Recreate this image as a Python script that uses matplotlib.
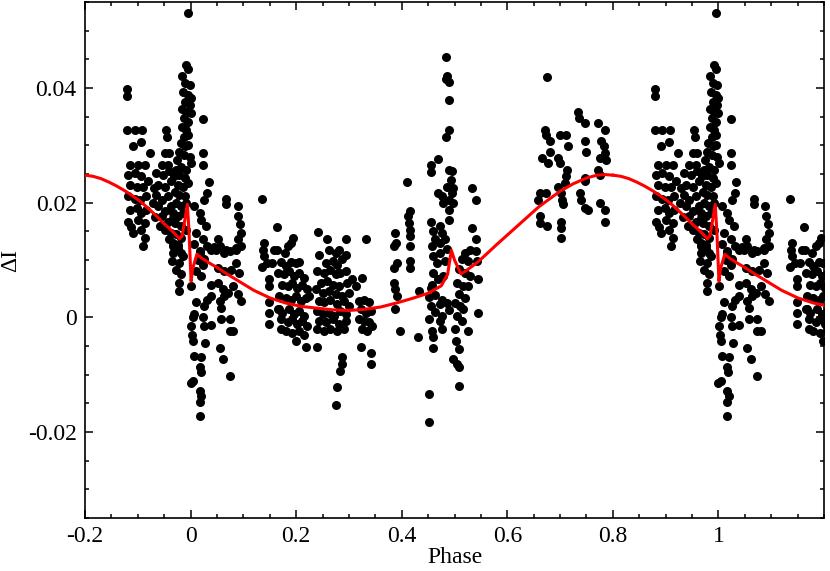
import matplotlib
matplotlib.use("Agg")
import matplotlib.pyplot as plt
import numpy as np
from matplotlib.ticker import MultipleLocator, FixedLocator, FuncFormatter

# Points with phase < 0.8 are repeated at phase + 1 on the plot.
night_a = [
    (-0.121, 0.0398), (-0.121, 0.0386), (-0.121, 0.0327), (-0.106, 0.0327),
    (-0.092, 0.0327), (-0.109, 0.0298), (-0.093, 0.0305), (-0.076, 0.0286),
    (-0.115, 0.0266), (-0.099, 0.0266), (-0.087, 0.0266), (-0.118, 0.0249),
    (-0.106, 0.0252), (-0.093, 0.0246), (-0.115, 0.0231), (-0.102, 0.0228),
    (-0.090, 0.0228), (-0.081, 0.0237), (-0.118, 0.0211), (-0.106, 0.0207),
    (-0.096, 0.0205), (-0.084, 0.0211), (-0.115, 0.0188), (-0.102, 0.0191),
    (-0.093, 0.0182), (-0.084, 0.0188), (-0.118, 0.0167), (-0.099, 0.0170),
    (-0.087, 0.0164), (-0.109, 0.0147), (-0.093, 0.0153), (-0.087, 0.0138),
    (-0.090, 0.0124), (-0.112, 0.0158), (-0.070, 0.0225), (-0.072, 0.0200),
]
night_b = [
    (-0.046, 0.0327), (-0.044, 0.0315), (-0.049, 0.0286), (-0.040, 0.0286),
    (-0.055, 0.0266), (-0.043, 0.0266), (-0.065, 0.0252), (-0.052, 0.0249),
    (-0.040, 0.0255), (-0.062, 0.0231), (-0.049, 0.0228), (-0.037, 0.0237),
    (-0.065, 0.0213), (-0.055, 0.0205), (-0.043, 0.0211), (-0.062, 0.0194),
    (-0.049, 0.0185), (-0.037, 0.0194), (-0.055, 0.0176), (-0.043, 0.0167),
    (-0.033, 0.0173), (-0.049, 0.0153), (-0.037, 0.0147), (-0.040, 0.0136),
    (-0.033, 0.0124), (-0.058, 0.0160), (-0.068, 0.0175),
]
eclipse_spike = [
    (-0.005, 0.0531), (-0.008, 0.0440), (-0.004, 0.0434), (-0.016, 0.0421),
    (-0.011, 0.0408), (-0.002, 0.0405), (-0.015, 0.0393), (-0.005, 0.0387),
    (0.000, 0.0383), (-0.011, 0.0376), (-0.002, 0.0370), (-0.016, 0.0364),
    (-0.008, 0.0359), (0.000, 0.0356), (-0.012, 0.0347), (-0.004, 0.0341),
    (-0.016, 0.0332), (-0.008, 0.0327), (-0.012, 0.0315), (-0.004, 0.0318),
    (-0.019, 0.0304), (-0.011, 0.0298), (-0.004, 0.0301), (-0.022, 0.0289),
    (-0.012, 0.0283), (-0.002, 0.0280), (-0.025, 0.0275), (0.001, 0.0269),
    (-0.018, 0.0263), (-0.008, 0.0257), (-0.027, 0.0257), (-0.021, 0.0249),
    (-0.011, 0.0243), (-0.031, 0.0246), (-0.024, 0.0231), (-0.015, 0.0228),
    (-0.005, 0.0234), (-0.030, 0.0219), (-0.021, 0.0214), (-0.011, 0.0211),
    (-0.027, 0.0199), (-0.018, 0.0194), (-0.008, 0.0199), (-0.033, 0.0182),
    (-0.024, 0.0176), (-0.015, 0.0182), (-0.030, 0.0165), (-0.018, 0.0159),
    (-0.008, 0.0153), (-0.027, 0.0145), (-0.018, 0.0139), (-0.024, 0.0127),
    (-0.033, 0.0113), (-0.015, 0.0107), (-0.033, 0.0130), (-0.024, 0.0121),
    (-0.018, 0.0112), (-0.035, 0.0098), (-0.021, 0.0095), (-0.027, 0.0083),
    (-0.018, 0.0075), (-0.022, 0.0060), (-0.021, 0.0046),
]
post_eclipse = [
    (0.001, 0.0054), (0.011, 0.0026), (0.004, 0.0000), (0.007, 0.0005),
    (0.001, -0.0015), (0.003, -0.0030), (0.004, -0.0041), (0.007, -0.0067),
    (0.000, -0.0114), (0.004, -0.0111), (0.017, -0.0087), (0.019, -0.0096),
    (0.017, -0.0128), (0.020, -0.0137), (0.017, -0.0148), (0.017, -0.0172),
    (0.020, -0.0070), (0.027, -0.0044), (0.023, 0.0000), (0.026, -0.0015),
    (0.026, 0.0020), (0.032, 0.0031), (0.039, 0.0037), (0.039, -0.0014),
    (0.007, 0.0128), (0.017, 0.0115), (0.014, 0.0100), (0.023, 0.0092),
    (0.010, 0.0081), (0.020, 0.0072), (0.007, 0.0194), (0.017, 0.0182),
    (0.026, 0.0205), (0.020, 0.0170), (0.029, 0.0159), (0.010, 0.0147),
    (0.023, 0.0136), (0.032, 0.0124), (0.017, 0.0113), (0.026, 0.0101),
    (0.023, 0.0346), (0.023, 0.0286), (0.023, 0.0266), (0.034, 0.0236),
    (0.031, 0.0217),
]
night_c = [
    (0.039, 0.0118), (0.048, 0.0118), (0.055, 0.0124), (0.064, 0.0112),
    (0.074, 0.0115), (0.086, 0.0121), (0.096, 0.0124), (0.052, 0.0086),
    (0.064, 0.0080), (0.077, 0.0083), (0.086, 0.0095), (0.092, 0.0078),
    (0.039, 0.0057), (0.052, 0.0060), (0.061, 0.0049), (0.071, 0.0043),
    (0.080, 0.0054), (0.089, 0.0040), (0.096, 0.0028), (0.055, 0.0028),
    (0.058, 0.0017), (0.064, 0.0037), (0.058, -0.0003), (0.074, -0.0003),
    (0.074, -0.0023), (0.080, -0.0023), (0.055, -0.0053), (0.061, -0.0073),
    (0.074, -0.0103), (0.052, 0.0136), (0.045, 0.0122), (0.067, 0.0117),
    (0.086, 0.0118), (0.090, 0.0136), (0.096, 0.0147), (0.089, 0.0195),
    (0.090, 0.0176), (0.094, 0.0163), (0.067, 0.0206), (0.067, 0.0197),
]
night_d = [
    (0.136, 0.0206), (0.163, 0.0158), (0.140, 0.0130), (0.137, 0.0118),
    (0.140, 0.0107), (0.136, 0.0088), (0.158, 0.0118), (0.164, 0.0118),
    (0.145, 0.0095), (0.155, 0.0095), (0.149, 0.0066), (0.149, 0.0054),
    (0.149, 0.0026), (0.149, 0.0008), (0.149, -0.0012), (0.171, -0.0021),
    (0.168, 0.0014), (0.178, 0.0112), (0.185, 0.0124), (0.194, 0.0139),
    (0.190, 0.0130), (0.171, 0.0097), (0.180, 0.0089), (0.190, 0.0097),
    (0.199, 0.0095), (0.206, 0.0097), (0.165, 0.0078), (0.177, 0.0075),
    (0.187, 0.0080), (0.196, 0.0072), (0.206, 0.0078), (0.215, 0.0069),
    (0.174, 0.0057), (0.184, 0.0054), (0.193, 0.0060), (0.202, 0.0052),
    (0.212, 0.0057), (0.221, 0.0049), (0.224, 0.0037), (0.168, 0.0037),
    (0.180, 0.0034), (0.190, 0.0031), (0.199, 0.0037), (0.209, 0.0028),
    (0.218, 0.0034), (0.165, 0.0014), (0.174, 0.0008), (0.187, 0.0014),
    (0.196, 0.0005), (0.206, 0.0011), (0.215, 0.0003), (0.171, -0.0003),
    (0.184, -0.0009), (0.193, -0.0003), (0.202, -0.0012), (0.212, -0.0006),
    (0.221, -0.0015), (0.180, -0.0024), (0.193, -0.0027), (0.206, -0.0024),
    (0.215, -0.0030), (0.199, -0.0041), (0.218, -0.0051),
]
night_e = [
    (0.242, 0.0148), (0.259, 0.0137), (0.295, 0.0137), (0.262, 0.0118),
    (0.281, 0.0118), (0.243, 0.0108), (0.275, 0.0112), (0.294, 0.0108),
    (0.256, 0.0095), (0.269, 0.0098), (0.278, 0.0092), (0.287, 0.0101),
    (0.240, 0.0081), (0.253, 0.0078), (0.265, 0.0083), (0.275, 0.0075),
    (0.284, 0.0078), (0.294, 0.0081), (0.247, 0.0060), (0.259, 0.0063),
    (0.269, 0.0057), (0.281, 0.0054), (0.297, 0.0060), (0.237, 0.0049),
    (0.250, 0.0043), (0.262, 0.0046), (0.275, 0.0040), (0.287, 0.0037),
    (0.300, 0.0043), (0.243, 0.0028), (0.253, 0.0026), (0.265, 0.0031),
    (0.278, 0.0023), (0.291, 0.0028), (0.300, 0.0020), (0.240, 0.0011),
    (0.250, 0.0005), (0.262, 0.0008), (0.272, 0.0002), (0.284, 0.0011),
    (0.294, 0.0005), (0.243, -0.0006), (0.256, -0.0009), (0.269, -0.0003),
    (0.281, -0.0012), (0.294, -0.0006), (0.240, -0.0021), (0.253, -0.0024),
    (0.265, -0.0021), (0.278, -0.0024), (0.291, -0.0021), (0.240, -0.0051),
    (0.287, -0.0070), (0.286, -0.0082), (0.284, -0.0093), (0.278, -0.0122),
    (0.276, -0.0153),
    (0.332, 0.0137), (0.306, 0.0066), (0.313, 0.0054), (0.325, 0.0069),
    (0.319, 0.0028), (0.328, 0.0031), (0.338, 0.0026), (0.322, 0.0014),
    (0.332, 0.0008), (0.341, 0.0011), (0.319, -0.0003), (0.328, -0.0006),
    (0.338, -0.0009), (0.325, -0.0021), (0.335, -0.0024), (0.344, -0.0015),
    (0.322, -0.0051), (0.341, -0.0063), (0.341, -0.0082),
]
night_f = [
    (0.388, 0.0147), (0.389, 0.0130), (0.386, 0.0124), (0.391, 0.0095),
    (0.385, 0.0086), (0.385, 0.0060), (0.388, 0.0049), (0.392, 0.0037),
    (0.388, 0.0015), (0.397, -0.0024), (0.410, 0.0236), (0.416, 0.0185),
    (0.412, 0.0176), (0.413, 0.0165), (0.416, 0.0153), (0.416, 0.0141),
    (0.416, 0.0124), (0.416, 0.0098), (0.416, 0.0086), (0.432, 0.0046),
    (0.431, -0.0034),
]
night_g = [
    (0.484, 0.0454), (0.485, 0.0421), (0.484, 0.0416), (0.489, 0.0411),
    (0.489, 0.0379), (0.489, 0.0327), (0.484, 0.0314), (0.469, 0.0277),
    (0.455, 0.0266), (0.455, 0.0254), (0.489, 0.0257), (0.495, 0.0256),
    (0.494, 0.0240), (0.485, 0.0228), (0.497, 0.0226), (0.469, 0.0217),
    (0.495, 0.0217), (0.479, 0.0199), (0.489, 0.0205), (0.497, 0.0199),
    (0.489, 0.0188), (0.489, 0.0170), (0.476, 0.0211), (0.534, 0.0226),
    (0.540, 0.0205), (0.455, 0.0167), (0.460, 0.0150), (0.463, 0.0136),
    (0.457, 0.0124), (0.472, 0.0159), (0.476, 0.0147), (0.472, 0.0130),
    (0.482, 0.0136), (0.460, 0.0107), (0.472, 0.0113), (0.485, 0.0119),
    (0.466, 0.0095), (0.482, 0.0098), (0.460, 0.0078), (0.457, 0.0057),
    (0.455, 0.0051), (0.469, 0.0066), (0.479, 0.0072), (0.451, 0.0036),
    (0.464, 0.0039), (0.476, 0.0031), (0.455, 0.0020), (0.472, 0.0023),
    (0.485, 0.0025), (0.464, 0.0009), (0.476, 0.0003), (0.489, 0.0012),
    (0.451, -0.0003), (0.472, -0.0006), (0.457, -0.0024), (0.476, -0.0021),
    (0.460, -0.0035), (0.460, -0.0053), (0.451, -0.0134), (0.451, -0.0183),
    (0.534, 0.0156), (0.540, 0.0136), (0.540, 0.0115), (0.529, 0.0118),
    (0.520, 0.0113), (0.514, 0.0101), (0.526, 0.0098), (0.542, 0.0098),
    (0.508, 0.0084), (0.520, 0.0078), (0.529, 0.0072), (0.544, 0.0066),
    (0.504, 0.0060), (0.517, 0.0054), (0.526, 0.0054), (0.508, 0.0040),
    (0.520, 0.0033), (0.501, 0.0025), (0.511, 0.0020), (0.517, 0.0014),
    (0.544, 0.0007), (0.504, 0.0002), (0.514, -0.0007), (0.526, -0.0024),
    (0.501, -0.0021), (0.503, -0.0041), (0.508, -0.0055), (0.498, -0.0073),
    (0.504, -0.0082), (0.508, -0.0087), (0.508, -0.0119),
]
night_h = [
    (0.676, 0.0419), (0.734, 0.0359), (0.735, 0.0347), (0.747, 0.0339),
    (0.772, 0.0339), (0.786, 0.0327), (0.671, 0.0327), (0.674, 0.0318),
    (0.680, 0.0308), (0.699, 0.0318), (0.712, 0.0318), (0.715, 0.0298),
    (0.747, 0.0308), (0.750, 0.0289), (0.778, 0.0307), (0.784, 0.0298),
    (0.786, 0.0286), (0.775, 0.0278), (0.787, 0.0275), (0.680, 0.0289),
    (0.665, 0.0278), (0.677, 0.0269), (0.696, 0.0278), (0.699, 0.0269),
    (0.714, 0.0257), (0.712, 0.0246), (0.709, 0.0234), (0.696, 0.0228),
    (0.662, 0.0217), (0.674, 0.0217), (0.658, 0.0205), (0.702, 0.0217),
    (0.704, 0.0205), (0.706, 0.0197), (0.737, 0.0217), (0.740, 0.0205),
    (0.747, 0.0191), (0.753, 0.0188), (0.772, 0.0257), (0.775, 0.0249),
    (0.747, 0.0243), (0.747, 0.0237), (0.775, 0.0199), (0.786, 0.0188),
    (0.786, 0.0167), (0.662, 0.0176), (0.662, 0.0165), (0.676, 0.0159),
    (0.701, 0.0167), (0.702, 0.0156), (0.701, 0.0139),
]

# Model light curve over one period (-0.2 .. 0.8)
model_phase = [-0.200, -0.185, -0.170, -0.155, -0.140, -0.125, -0.110, -0.095,
               -0.080, -0.065, -0.050, -0.040, -0.030, -0.021, -0.016, -0.006,
               -0.003, 0.001, 0.004, 0.012, 0.020, 0.035, 0.050, 0.070,
               0.095, 0.120, 0.150, 0.180, 0.210, 0.240, 0.270, 0.300,
               0.330, 0.360, 0.390, 0.420, 0.450, 0.475, 0.487, 0.494,
               0.500, 0.512, 0.520, 0.545, 0.580, 0.620, 0.660, 0.700,
               0.725, 0.750, 0.770, 0.785, 0.800]
model_di = [0.0248, 0.0246, 0.0242, 0.0236, 0.0229, 0.0221, 0.0212, 0.0202,
            0.0190, 0.0177, 0.0163, 0.0155, 0.0146, 0.0137, 0.0142, 0.0197,
            0.0150, 0.0063, 0.0085, 0.0110, 0.0104, 0.0095, 0.0087, 0.0075,
            0.0061, 0.0047, 0.0034, 0.0025, 0.0019, 0.0016, 0.0013, 0.0012,
            0.0014, 0.0018, 0.0025, 0.0033, 0.0042, 0.0055, 0.0075, 0.0117,
            0.0100, 0.0076, 0.0080, 0.0097, 0.0127, 0.0160, 0.0193, 0.0220,
            0.0233, 0.0243, 0.0248, 0.0249, 0.0248]

xticks = [-0.2, 0, 0.2, 0.4, 0.6, 0.8, 1.0]
yticks = [-0.02, 0, 0.02, 0.04]

plt.rcParams['font.family'] = ['Liberation Serif', 'DejaVu Serif']
plt.rcParams['axes.unicode_minus'] = False

obs = np.array(night_a + night_b + eclipse_spike + post_eclipse + night_c
               + night_d + night_e + night_f + night_g + night_h)
phase, di = obs[:, 0], obs[:, 1]

fig = plt.figure(figsize=(8.3, 5.71), dpi=100)
ax = fig.add_axes([85 / 830, 1 - 518 / 571, (824 - 85) / 830, (518 - 2) / 571])

for shift in (0, 1):
    ax.plot(phase + shift, di, 'o', color='black', ms=6.5, mew=0, zorder=2)
for shift in (0, 1):
    ax.plot(np.array(model_phase) + shift, model_di, '-', color='#ff0000',
            lw=2.2, zorder=3)

ax.set_xlim(-0.2, 1.2)
ax.set_ylim(-0.035, 0.055)
ax.xaxis.set_major_locator(FixedLocator(xticks))
ax.xaxis.set_minor_locator(MultipleLocator(0.05))
ax.yaxis.set_major_locator(FixedLocator(yticks))
ax.yaxis.set_minor_locator(MultipleLocator(0.005))
fmt = FuncFormatter(lambda v, p: '%g' % round(v, 4))
ax.xaxis.set_major_formatter(fmt)
ax.yaxis.set_major_formatter(fmt)

ax.tick_params(which='both', direction='in', top=True, right=True,
               labelsize=17, width=1.1)
ax.tick_params(which='major', length=6, pad=6)
ax.tick_params(which='minor', length=3)
for s in ax.spines.values():
    s.set_linewidth(1.2)

ax.set_xlabel('Phase', fontsize=17, labelpad=0)
ax.set_ylabel('ΔI', fontsize=17, labelpad=5)

fig.savefig('out.png', dpi=100)
